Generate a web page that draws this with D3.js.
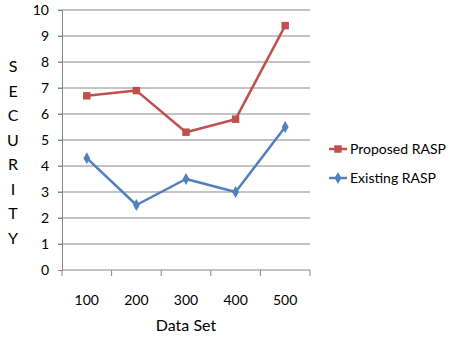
<!DOCTYPE html>
<html>
<head>
<meta charset="utf-8">
<script src="https://d3js.org/d3.v7.min.js"></script>
<style>
  body { margin: 0; background: #fff; }
  text { font-family: Lato, "Open Sans", sans-serif; fill: #000; }
</style>
</head>
<body>
<script>
// data
var categories = ["100", "200", "300", "400", "500"];
var proposed = [6.7, 6.9, 5.3, 5.8, 9.4];
var existing = [4.3, 2.5, 3.5, 3.0, 5.5];
var yTicks = [0, 1, 2, 3, 4, 5, 6, 7, 8, 9, 10];
var yTitle = "SECURITY";

var width = 450, height = 340;
var margin = { top: 10, left: 62, right: 140, bottom: 70 };

var svg = d3.select("body").append("svg")
    .attr("width", width)
    .attr("height", height);

var x = d3.scaleBand()
    .domain(categories)
    .range([margin.left, width - margin.right]);

var y = d3.scaleLinear()
    .domain([0, 10])
    .range([height - margin.bottom, margin.top]);

// gridlines
svg.append("g")
    .selectAll("line")
    .data(yTicks.slice(1))
    .enter().append("line")
    .attr("x1", margin.left - 4)
    .attr("x2", width - margin.right)
    .attr("y1", function (d) { return y(d); })
    .attr("y2", function (d) { return y(d); })
    .attr("stroke", "#878787")
    .attr("stroke-width", 1);

// y axis
var yAxis = svg.append("g")
    .attr("transform", "translate(" + margin.left + ",0)")
    .call(d3.axisLeft(y).tickValues(yTicks).tickSize(4).tickPadding(9));
yAxis.select(".domain").attr("stroke", "#878787");
yAxis.selectAll(".tick line").attr("stroke", "#878787");
yAxis.selectAll("text").style("font-size", "14px").attr("fill", "#000");

// x axis with ticks between categories
var xAxis = svg.append("g")
    .attr("transform", "translate(0," + y(0) + ")");
xAxis.append("line")
    .attr("x1", margin.left).attr("x2", width - margin.right)
    .attr("stroke", "#878787");
var edges = categories.map(function (c) { return x(c); }).concat([x.range()[1]]);
xAxis.selectAll(".edge")
    .data(edges)
    .enter().append("line")
    .attr("x1", function (d) { return d; })
    .attr("x2", function (d) { return d; })
    .attr("y1", 0).attr("y2", 6)
    .attr("stroke", "#878787");
xAxis.selectAll(".lbl")
    .data(categories)
    .enter().append("text")
    .attr("x", function (d) { return x(d) + x.bandwidth() / 2; })
    .attr("y", 35)
    .attr("text-anchor", "middle")
    .style("font-size", "14px")
    .text(function (d) { return d; });

// axis titles
svg.append("text")
    .attr("x", x.range()[0] + (x.range()[1] - x.range()[0]) / 2)
    .attr("y", 331)
    .attr("text-anchor", "middle")
    .style("font-size", "16px")
    .text("Data Set");

svg.append("g").selectAll("text")
    .data(yTitle.split(""))
    .enter().append("text")
    .attr("x", 13)
    .attr("y", function (d, i) { return 72 + i * 24.5; })
    .attr("text-anchor", "middle")
    .style("font-size", "16px")
    .text(function (d) { return d; });

var line = d3.line()
    .x(function (d, i) { return x(categories[i]) + x.bandwidth() / 2; })
    .y(function (d) { return y(d); });

var series = [
    { name: "Proposed RASP", values: proposed, color: "#C0504D", shape: d3.symbolSquare, size: 56 },
    { name: "Existing RASP", values: existing, color: "#4F81BD", shape: d3.symbolDiamond, size: 40 }
];

series.forEach(function (s, k) {
    svg.append("path")
        .datum(s.values)
        .attr("d", line)
        .attr("fill", "none")
        .attr("stroke", s.color)
        .attr("stroke-width", 2.5)
        .attr("stroke-linejoin", "round");

    svg.append("g").selectAll("path")
        .data(s.values)
        .enter().append("path")
        .attr("d", d3.symbol().type(s.shape).size(s.size))
        .attr("transform", function (d, i) {
            return "translate(" + (x(categories[i]) + x.bandwidth() / 2) + "," + y(d) + ")";
        })
        .attr("fill", s.color);

    // legend
    var ly = 149 + k * 29;
    var lg = svg.append("g");
    lg.append("line")
        .attr("x1", 329).attr("x2", 347)
        .attr("y1", ly).attr("y2", ly)
        .attr("stroke", s.color).attr("stroke-width", 2.5);
    lg.append("path")
        .attr("d", d3.symbol().type(s.shape).size(s.size))
        .attr("transform", "translate(338," + ly + ")")
        .attr("fill", s.color);
    lg.append("text")
        .attr("x", 350)
        .attr("y", ly + 5)
        .style("font-size", "14px")
        .text(s.name);
});
</script>
</body>
</html>
